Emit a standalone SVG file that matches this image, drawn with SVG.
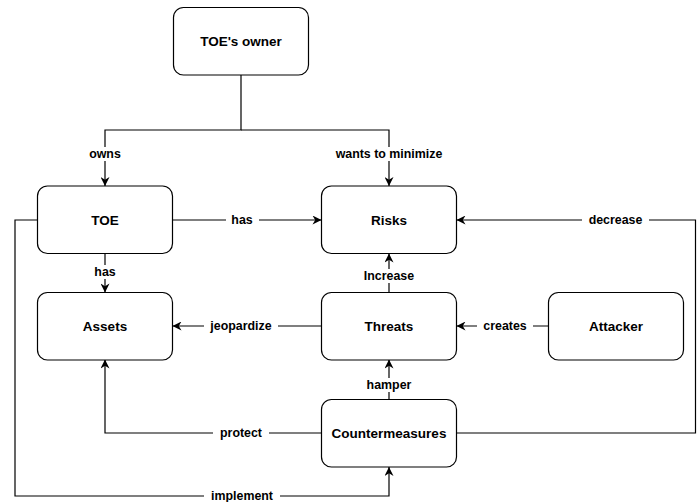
<svg xmlns="http://www.w3.org/2000/svg" width="699" height="502" viewBox="0 0 699 502">
<style>
.node rect{fill:#fff;stroke:#000;stroke-width:1.2}
.node text{font-family:"Liberation Sans",Arial,sans-serif;font-weight:bold;font-size:13.5px;fill:#000;text-anchor:middle;dominant-baseline:central}
.edge{fill:none;stroke:#000;stroke-width:1.2}
.lbl rect{fill:#fff}
.lbl text{font-family:"Liberation Sans",Arial,sans-serif;font-weight:bold;font-size:12.4px;fill:#000;text-anchor:middle;dominant-baseline:central}
</style>
<defs>
<marker id="arr" viewBox="0 0 10 10" refX="10" refY="5" markerWidth="10" markerHeight="9" markerUnits="userSpaceOnUse" orient="auto">
<path d="M0,0 L10,5 L0,10 L3,5 z" fill="#000"/>
</marker>
</defs>
<rect width="699" height="502" fill="#fff"/>
<g id="connectors">
<path class="edge" d="M241,75 V130 H105 V186" marker-end="url(#arr)"/>
<path class="edge" d="M241,130 H389 V186" marker-end="url(#arr)"/>
<path class="edge" d="M172.5,220 H321.5" marker-end="url(#arr)"/>
<path class="edge" d="M105,253.5 V292.5" marker-end="url(#arr)"/>
<path class="edge" d="M321.5,326 H172.5" marker-end="url(#arr)"/>
<path class="edge" d="M389,292.5 V253.5" marker-end="url(#arr)"/>
<path class="edge" d="M548.5,326 H456.5" marker-end="url(#arr)"/>
<path class="edge" d="M456.5,433 H695.5 V220 H456.5" marker-end="url(#arr)"/>
<path class="edge" d="M389,399.5 V359.5" marker-end="url(#arr)"/>
<path class="edge" d="M321.5,433 H105 V359.5" marker-end="url(#arr)"/>
<path class="edge" d="M37.5,220 H15 V496 H389 V467" marker-end="url(#arr)"/>
<g class="lbl">
<rect x="89" y="147" width="32" height="14"/><text x="105" y="154">owns</text>
<rect x="335" y="147" width="108" height="14"/><text x="389" y="154">wants to minimize</text>
<rect x="226" y="213" width="33" height="14"/><text x="242" y="220">has</text>
<rect x="94" y="265" width="22" height="14"/><text x="105" y="272">has</text>
<rect x="204" y="319" width="74" height="14"/><text x="241" y="326">jeopardize</text>
<rect x="364" y="269" width="50" height="14"/><text x="389" y="276">Increase</text>
<rect x="477" y="319" width="56" height="14"/><text x="505" y="326">creates</text>
<rect x="582" y="213" width="67" height="14"/><text x="615.5" y="220">decrease</text>
<rect x="366" y="378" width="46" height="14"/><text x="389" y="385">hamper</text>
<rect x="213" y="426" width="56" height="14"/><text x="241" y="433">protect</text>
<rect x="204" y="489" width="76" height="14"/><text x="242" y="496">implement</text>
</g>
</g>
<g id="toe-owner" class="node"><rect x="173.5" y="7.5" width="135" height="67.5" rx="10"/><text x="241" y="41">TOE's owner</text></g>
<g id="toe" class="node"><rect x="37.5" y="186" width="135" height="67.5" rx="10"/><text x="105" y="220">TOE</text></g>
<g id="risks" class="node"><rect x="321.5" y="186" width="135" height="67.5" rx="10"/><text x="389" y="220">Risks</text></g>
<g id="assets" class="node"><rect x="37.5" y="292.5" width="135" height="67.5" rx="10"/><text x="105" y="326">Assets</text></g>
<g id="threats" class="node"><rect x="321.5" y="292.5" width="135" height="67.5" rx="10"/><text x="389" y="326">Threats</text></g>
<g id="attacker" class="node"><rect x="548.5" y="292.5" width="135" height="67.5" rx="10"/><text x="616" y="326">Attacker</text></g>
<g id="countermeasures" class="node"><rect x="321.5" y="399.5" width="135" height="67.5" rx="10"/><text x="389" y="433">Countermeasures</text></g>
</svg>
